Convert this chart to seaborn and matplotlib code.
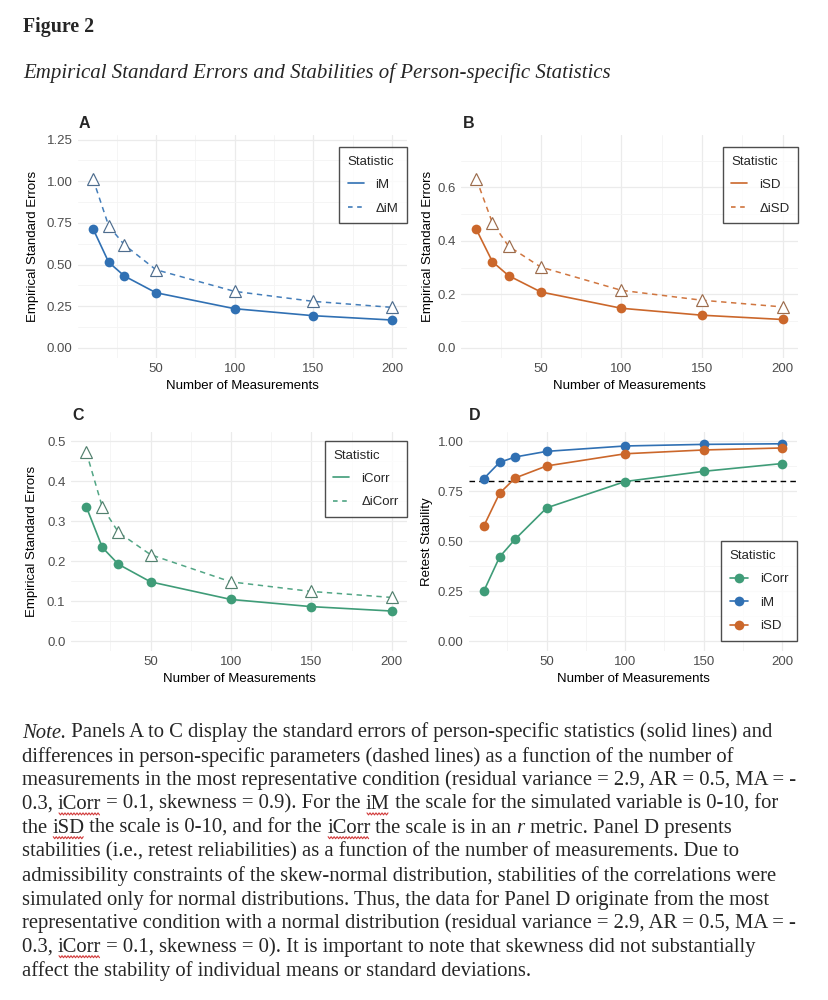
import numpy as np
import pandas as pd
import matplotlib
matplotlib.use("Agg")
import matplotlib.pyplot as plt
import seaborn as sns
from matplotlib.lines import Line2D

# ---------------- data ----------------
n_meas = [10, 20, 30, 50, 100, 150, 200]

se_iM = [0.716, 0.514, 0.431, 0.331, 0.235, 0.193, 0.167]
se_dIM = [1.015, 0.732, 0.618, 0.469, 0.339, 0.279, 0.243]

se_iSD = [0.443, 0.322, 0.270, 0.209, 0.148, 0.122, 0.106]
se_dISD = [0.632, 0.467, 0.380, 0.302, 0.215, 0.178, 0.153]

se_iCorr = [0.336, 0.234, 0.192, 0.148, 0.104, 0.086, 0.075]
se_dICorr = [0.473, 0.335, 0.272, 0.216, 0.148, 0.124, 0.109]

stab_iCorr = [0.251, 0.421, 0.511, 0.667, 0.799, 0.850, 0.889]
stab_iM = [0.814, 0.895, 0.922, 0.950, 0.977, 0.985, 0.988]
stab_iSD = [0.577, 0.740, 0.817, 0.877, 0.938, 0.957, 0.967]
stability_cutoff = 0.80

stat_names = ["iCorr", "iM", "iSD"]

# ---------------- style ----------------
C_BLUE = "#3070B3"
C_ORANGE = "#CB672B"
C_GREEN = "#3F9C78"
TRI = {C_BLUE: "#4E6D8E", C_ORANGE: "#9C6C4C", C_GREEN: "#52806E"}

sns.set_theme(style="white")
plt.rcParams['font.family'] = ['Liberation Sans', 'DejaVu Sans']
SERIF = ['Liberation Serif', 'DejaVu Serif']

W, H = 829, 1000
fig = plt.figure(figsize=(W / 100, H / 100), dpi=100)


def ax_rect(x0, y0, x1, y1):
    return [x0 / W, 1 - y1 / H, (x1 - x0) / W, (y1 - y0) / H]


def style_axes(ax, ylim, yticks, ylabels, yminor, ylabel, lab_x, lab_y):
    ax.set_xlim(0.5, 209.5)
    ax.set_ylim(*ylim)
    ax.set_xticks([50, 100, 150, 200])
    ax.set_xticks([25, 75, 125, 175], minor=True)
    ax.set_yticks(yticks)
    ax.set_yticklabels(ylabels)
    ax.set_yticks(yminor, minor=True)
    ax.grid(True, which="major", color="#EBEBEB", lw=0.9)
    ax.grid(True, which="minor", color="#F4F4F4", lw=0.6)
    ax.set_axisbelow(True)
    for s in ax.spines.values():
        s.set_visible(False)
    ax.tick_params(axis="both", which="both", length=0, labelsize=9.5,
                   labelcolor="#4D4D4D")
    ax.tick_params(axis="x", pad=3.8)
    ax.tick_params(axis="y", pad=4.0)
    ax.set_xlabel("Number of Measurements", fontsize=9.5, color="black")
    ax.xaxis.label.set_va("center")
    ax.xaxis.set_label_coords(0.5, lab_y)
    ax.set_ylabel(ylabel, fontsize=9.5, color="black")
    ax.yaxis.label.set_va("center")
    ax.yaxis.set_label_coords(lab_x, 0.5)


LEG_KW = dict(borderaxespad=0, fontsize=9.5, title_fontsize=9.5, frameon=True,
              fancybox=False, edgecolor="#222222", handletextpad=0.9,
              labelspacing=0.85, borderpad=0.65, alignment="left")


def se_panel(rect, letter, letter_xy, solid, dashed, names, color, ylim,
             yticks, ylabels, yminor, lab_x, lab_y, leg_anchor):
    ax = fig.add_axes(rect)
    df = pd.DataFrame({
        "N": n_meas + n_meas,
        "SE": solid + dashed,
        "Statistic": [names[0]] * len(n_meas) + [names[1]] * len(n_meas),
    })
    sns.lineplot(data=df[df["Statistic"] == names[1]], x="N", y="SE", ax=ax,
                 color=color, lw=1.1, linestyle=(0, (3.5, 3.0)), alpha=0.9,
                 legend=False, zorder=2)
    sns.lineplot(data=df[df["Statistic"] == names[1]], x="N", y="SE", ax=ax,
                 color=color, lw=0, marker="^", markersize=8.7,
                 markerfacecolor="white", markeredgecolor=TRI[color],
                 markeredgewidth=0.85, legend=False, zorder=3)
    sns.lineplot(data=df[df["Statistic"] == names[0]], x="N", y="SE", ax=ax,
                 color=color, lw=1.2, marker="o", markersize=7.0,
                 markeredgewidth=0, markerfacecolor=color, legend=False,
                 zorder=4)
    style_axes(ax, ylim, yticks, ylabels, yminor, "Empirical Standard Errors",
               lab_x, lab_y)
    handles = [Line2D([], [], color=color, lw=1.2),
               Line2D([], [], color=color, lw=1.1, linestyle=(0, (3.0, 3.0)))]
    leg = ax.legend(handles, names, title="Statistic", loc="upper right",
                    bbox_to_anchor=leg_anchor, handlelength=1.2, **LEG_KW)
    leg.get_frame().set_linewidth(1.0)
    fig.text(letter_xy[0] / W, 1 - letter_xy[1] / H, letter, fontsize=11.5,
             fontweight="bold", ha="left", va="center")
    return ax


# Panel A
se_panel(ax_rect(78, 135, 407, 358), "A", (79, 123), se_iM, se_dIM,
         ["iM", "ΔiM"], C_BLUE, (-0.061, 1.278),
         [0, 0.25, 0.5, 0.75, 1.0, 1.25],
         ["0.00", "0.25", "0.50", "0.75", "1.00", "1.25"],
         [0.125, 0.375, 0.625, 0.875, 1.125],
         -0.137, -0.1256, (1.0, 0.946))

# Panel B
se_panel(ax_rect(461, 135, 798, 358), "B", (463, 123), se_iSD, se_dISD,
         ["iSD", "ΔiSD"], C_ORANGE, (-0.038, 0.796),
         [0, 0.2, 0.4, 0.6], ["0.0", "0.2", "0.4", "0.6"],
         [0.1, 0.3, 0.5, 0.7],
         -0.098, -0.1256, (1.0, 0.946))

# Panel C
se_panel(ax_rect(71, 432, 407, 651), "C", (72, 415), se_iCorr, se_dICorr,
         ["iCorr", "ΔiCorr"], C_GREEN, (-0.025, 0.523),
         [0, 0.1, 0.2, 0.3, 0.4, 0.5],
         ["0.0", "0.1", "0.2", "0.3", "0.4", "0.5"],
         [0.05, 0.15, 0.25, 0.35, 0.45],
         -0.116, -0.128, (1.0, 0.959))

# Panel D
axD = fig.add_axes(ax_rect(469, 432, 797, 651))
dfD = pd.DataFrame({
    "N": n_meas * 3,
    "Stability": stab_iCorr + stab_iM + stab_iSD,
    "Statistic": [s for s in stat_names for _ in n_meas],
})
palD = {"iCorr": C_GREEN, "iM": C_BLUE, "iSD": C_ORANGE}
axD.axhline(stability_cutoff, color="black", lw=1.0, linestyle=(0, (4, 3)),
            zorder=1.5)
sns.lineplot(data=dfD, x="N", y="Stability", hue="Statistic",
             hue_order=stat_names, palette=palD, ax=axD, lw=1.2, marker="o",
             markersize=7.0, markeredgewidth=0, legend=False, zorder=3)
style_axes(axD, (-0.05, 1.047), [0, 0.25, 0.5, 0.75, 1.0],
           ["0.00", "0.25", "0.50", "0.75", "1.00"],
           [0.125, 0.375, 0.625, 0.875], "Retest Stability", -0.128, -0.128)
hD = [Line2D([], [], color=palD[s], lw=1.2, marker="o", markersize=7.0,
             markeredgewidth=0) for s in stat_names]
legD = axD.legend(hD, stat_names, title="Statistic", loc="lower right",
                  bbox_to_anchor=(1.0, 0.046), handlelength=1.4, **LEG_KW)
legD.get_frame().set_linewidth(1.0)
fig.text(469 / W, 1 - 415 / H, "D", fontsize=11.5, fontweight="bold",
         ha="left", va="center")

# ---------------- header ----------------
fig.text(23 / W, 1 - 27 / H, "Figure 2", family=SERIF, fontsize=14.3,
         fontweight="bold", ha="left", va="center")
fig.text(23 / W, 1 - 73 / H,
         "Empirical Standard Errors and Stabilities of Person-specific Statistics",
         family=SERIF, fontsize=15, style="italic", ha="left", va="center")

# ---------------- note ----------------
note_ax = fig.add_axes([0, 0, 1, 1])
note_ax.set_axis_off()
note_ax.set_zorder(-1)
NOTE_FS = 14.9
note_lines = [
    [("Note.", "italic"), (" Panels A to C display the standard errors of person-specific statistics (solid lines) and", "normal")],
    [("differences in person-specific parameters (dashed lines) as a function of the number of", "normal")],
    [("measurements in the most representative condition (residual variance = 2.9, AR = 0.5, MA = -", "normal")],
    [("0.3, ", "normal"), ("iCorr", "squig"), (" = 0.1, skewness = 0.9). For the ", "normal"), ("iM", "squig"),
     (" the scale for the simulated variable is 0-10, for", "normal")],
    [("the ", "normal"), ("iSD", "squig"), (" the scale is 0-10, and for the ", "normal"), ("iCorr", "squig"),
     (" the scale is in an", "normal"), (" r", "italic"), (" metric. Panel D presents", "normal")],
    [("stabilities (i.e., retest reliabilities) as a function of the number of measurements. Due to", "normal")],
    [("admissibility constraints of the skew-normal distribution, stabilities of the correlations were", "normal")],
    [("simulated only for normal distributions. Thus, the data for Panel D originate from the most", "normal")],
    [("representative condition with a normal distribution (residual variance = 2.9, AR = 0.5, MA = -", "normal")],
    [("0.3, ", "normal"), ("iCorr", "squig"),
     (" = 0.1, skewness = 0). It is important to note that skewness did not substantially", "normal")],
    [("affect the stability of individual means or standard deviations.", "normal")],
]
y0 = 733
dy = 23.8
squig_artists = []
for i, parts in enumerate(note_lines):
    yc = y0 + i * dy
    prev = None
    for txt, st in parts:
        fstyle = "italic" if st == "italic" else "normal"
        if prev is None:
            prev = note_ax.text(22 / W, 1 - yc / H, txt, transform=fig.transFigure,
                                family=SERIF, fontsize=NOTE_FS, style=fstyle,
                                ha="left", va="center")
        else:
            prev = note_ax.annotate(txt, xy=(1, 0), xycoords=prev,
                                    family=SERIF, fontsize=NOTE_FS, style=fstyle,
                                    ha="left", va="bottom")
        if st == "squig":
            squig_artists.append((prev, yc))

# red spell-check squiggles under flagged words
fig.canvas.draw()
renderer = fig.canvas.get_renderer()
for art, yc in squig_artists:
    bb = art.get_window_extent(renderer)
    x0p, x1p = bb.x0 + 1, bb.x1 - 1
    xs = np.arange(x0p, x1p, 1.5)
    base = (H - yc) - 9.5
    ys = base + np.where((np.arange(len(xs)) % 2) == 0, 1.0, -1.0)
    note_ax.add_line(Line2D(xs / W, ys / H, transform=fig.transFigure,
                            color="#D23A3A", lw=0.8))

fig.savefig("out.png", dpi=100)
